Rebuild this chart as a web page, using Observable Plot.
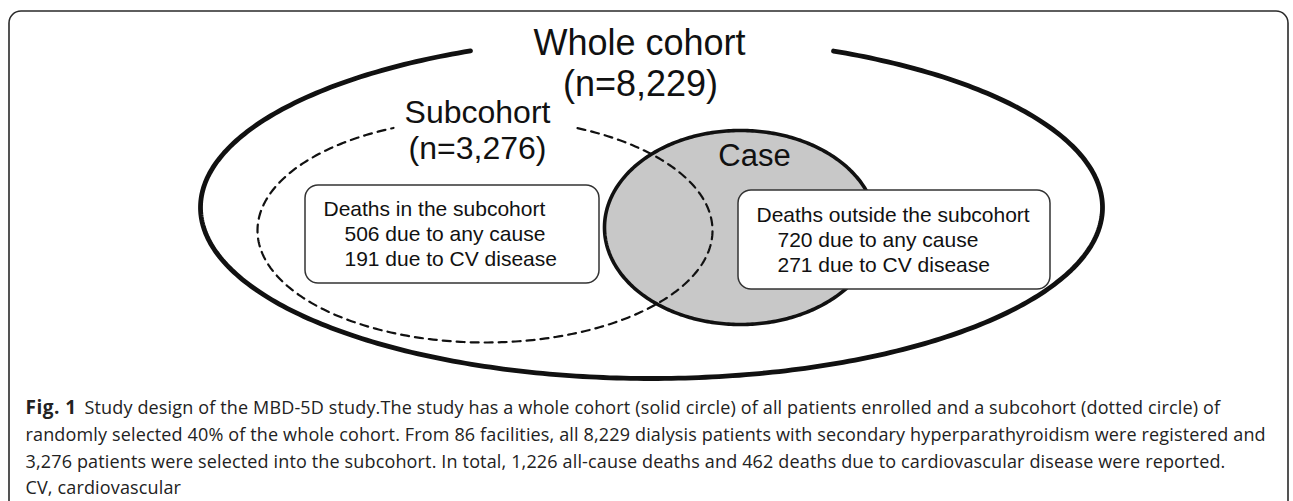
<!DOCTYPE html>
<html>
<head>
<meta charset="utf-8">
<script src="https://cdn.jsdelivr.net/npm/d3@7"></script>
<script src="https://cdn.jsdelivr.net/npm/@observablehq/plot@0.6"></script>
<style>
  html, body { margin: 0; padding: 0; background: #fff; overflow: hidden; }
  #chart svg { display: block; overflow: visible; }
</style>
</head>
<body>
<div id="chart"></div>
<script>
// ---- Data ----
const groupNames = ["Whole cohort", "Subcohort", "Case"];
const groupCounts = ["(n=8,229)", "(n=3,276)", ""];
const boxTitles = ["Deaths in the subcohort", "Deaths outside the subcohort"];
const anyCauseDeaths = [506, 720];
const cvDeaths = [191, 271];
const captionLabel = "Fig. 1";
const captionLines = [
  "Study design of the MBD-5D study.The study has a whole cohort (solid circle) of all patients enrolled and a subcohort (dotted circle) of",
  "randomly selected 40% of the whole cohort. From 86 facilities, all 8,229 dialysis patients with secondary hyperparathyroidism were registered and",
  "3,276 patients were selected into the subcohort. In total, 1,226 all-cause deaths and 462 deaths due to cardiovascular disease were reported.",
  "CV, cardiovascular"
];

// ---- Layout (diagram geometry) ----
const ellipseLayout = [
  {name: groupNames[0], cx: 651, cy: 207, rx: 451, ry: 171, gapL: 470, gapR: 833},
  {name: groupNames[1], cx: 484.5, cy: 230, rx: 227.5, ry: 112, gapL: 393, gapR: 577},
  {name: groupNames[2], cx: 740, cy: 227, rx: 136, ry: 97, gapL: null, gapR: null}
];
function ellipsePoints(e) {
  let t0 = 0, t1 = 2 * Math.PI;
  if (e.gapL != null) {
    t0 = -Math.acos((e.gapR - e.cx) / e.rx);
    t1 = 2 * Math.PI - Math.acos((e.gapL - e.cx) / e.rx);
  }
  const n = 360, pts = [];
  for (let i = 0; i <= n; i++) {
    const t = t0 + (t1 - t0) * i / n;
    pts.push({name: e.name, x: e.cx + e.rx * Math.cos(t), y: e.cy + e.ry * Math.sin(t)});
  }
  return pts;
}
const outerPts = ellipsePoints(ellipseLayout[0]);
const subPts = ellipsePoints(ellipseLayout[1]);
const casePts = ellipsePoints(ellipseLayout[2]);

const boxes = [
  {x1: 305, x2: 599, y1: 185, y2: 283, tx: 323, ty: 215},
  {x1: 738, x2: 1050, y1: 190, y2: 289, tx: 756, ty: 221}
];
const boxText = [];
boxes.forEach((b, i) => {
  boxText.push({x: b.tx, y: b.ty, text: boxTitles[i]});
  boxText.push({x: b.tx + 21, y: b.ty + 25, text: `${anyCauseDeaths[i]} due to any cause`});
  boxText.push({x: b.tx + 21, y: b.ty + 50, text: `${cvDeaths[i]} due to CV disease`});
});

const bigLabels = [
  {x: 639, y: 54, text: groupNames[0], size: 36},
  {x: 640, y: 95, text: groupCounts[0], size: 36},
  {x: 477, y: 122, text: groupNames[1], size: 32},
  {x: 477, y: 158, text: groupCounts[1], size: 32},
  {x: 754, y: 165, text: groupNames[2], size: 31}
];
const capBaselines = [413, 440, 467, 493];
const capText = captionLines.map((t, i) => ({x: i === 0 ? 84 : 25, y: capBaselines[i], text: t}));

const font = "'Liberation Sans', Arial, Helvetica, sans-serif";
const capFont = "'Open Sans', 'Noto Sans', sans-serif";

const chart = Plot.plot({
  width: 1293,
  height: 501,
  margin: 0,
  x: {domain: [0, 1293], range: [0, 1293], axis: null},
  y: {domain: [0, 501], range: [0, 501], axis: null},
  style: {background: "white", fontFamily: font, overflow: "visible"},
  marks: [
    // frame
    Plot.rect([{x1: 9, x2: 1288, y1: 11, y2: 560}], {x1: "x1", x2: "x2", y1: "y1", y2: "y2", rx: 12, fill: "none", stroke: "#2a2a2a", strokeWidth: 1.6}),
    // whole cohort ellipse
    Plot.line(outerPts, {x: "x", y: "y", stroke: "#111", strokeWidth: 4.8, curve: "linear"}),
    // case ellipse
    Plot.line(casePts, {x: "x", y: "y", fill: "#c8c8c8", stroke: "#111", strokeWidth: 3.6, curve: "linear"}),
    // subcohort dashed ellipse
    Plot.line(subPts, {x: "x", y: "y", stroke: "#111", strokeWidth: 2.2, strokeDasharray: "8,6", curve: "linear"}),
    // boxes
    Plot.rect(boxes, {x1: "x1", x2: "x2", y1: "y1", y2: "y2", rx: 13, fill: "white", stroke: "#333", strokeWidth: 1.5}),
    Plot.text(boxText, {x: "x", y: "y", text: "text", textAnchor: "start", lineAnchor: "bottom", fontSize: 21, fill: "#111"}),
    Plot.text(bigLabels, {x: "x", y: "y", text: "text", textAnchor: "middle", lineAnchor: "bottom", fontSize: d => d.size, fill: "#111"}),
    // caption
    Plot.text([{x: 25, y: capBaselines[0], text: captionLabel}], {x: "x", y: "y", text: "text", textAnchor: "start", lineAnchor: "bottom", fontSize: 19, fontWeight: "bold", fontFamily: "'Open Sans', sans-serif", fill: "#222"}),
    Plot.text(capText, {x: "x", y: "y", text: "text", textAnchor: "start", lineAnchor: "bottom", fontSize: 18, fontFamily: capFont, fill: "#222"})
  ]
});
// letter spacing for caption text
chart.querySelectorAll("g[font-family]").forEach(g => {
  const ff = g.getAttribute("font-family");
  if (ff === capFont) g.setAttribute("letter-spacing", "0.15");
  else if (ff.indexOf("Open Sans") >= 0) g.setAttribute("letter-spacing", "0.5");
});
document.getElementById("chart").appendChild(chart);
</script>
</body>
</html>
